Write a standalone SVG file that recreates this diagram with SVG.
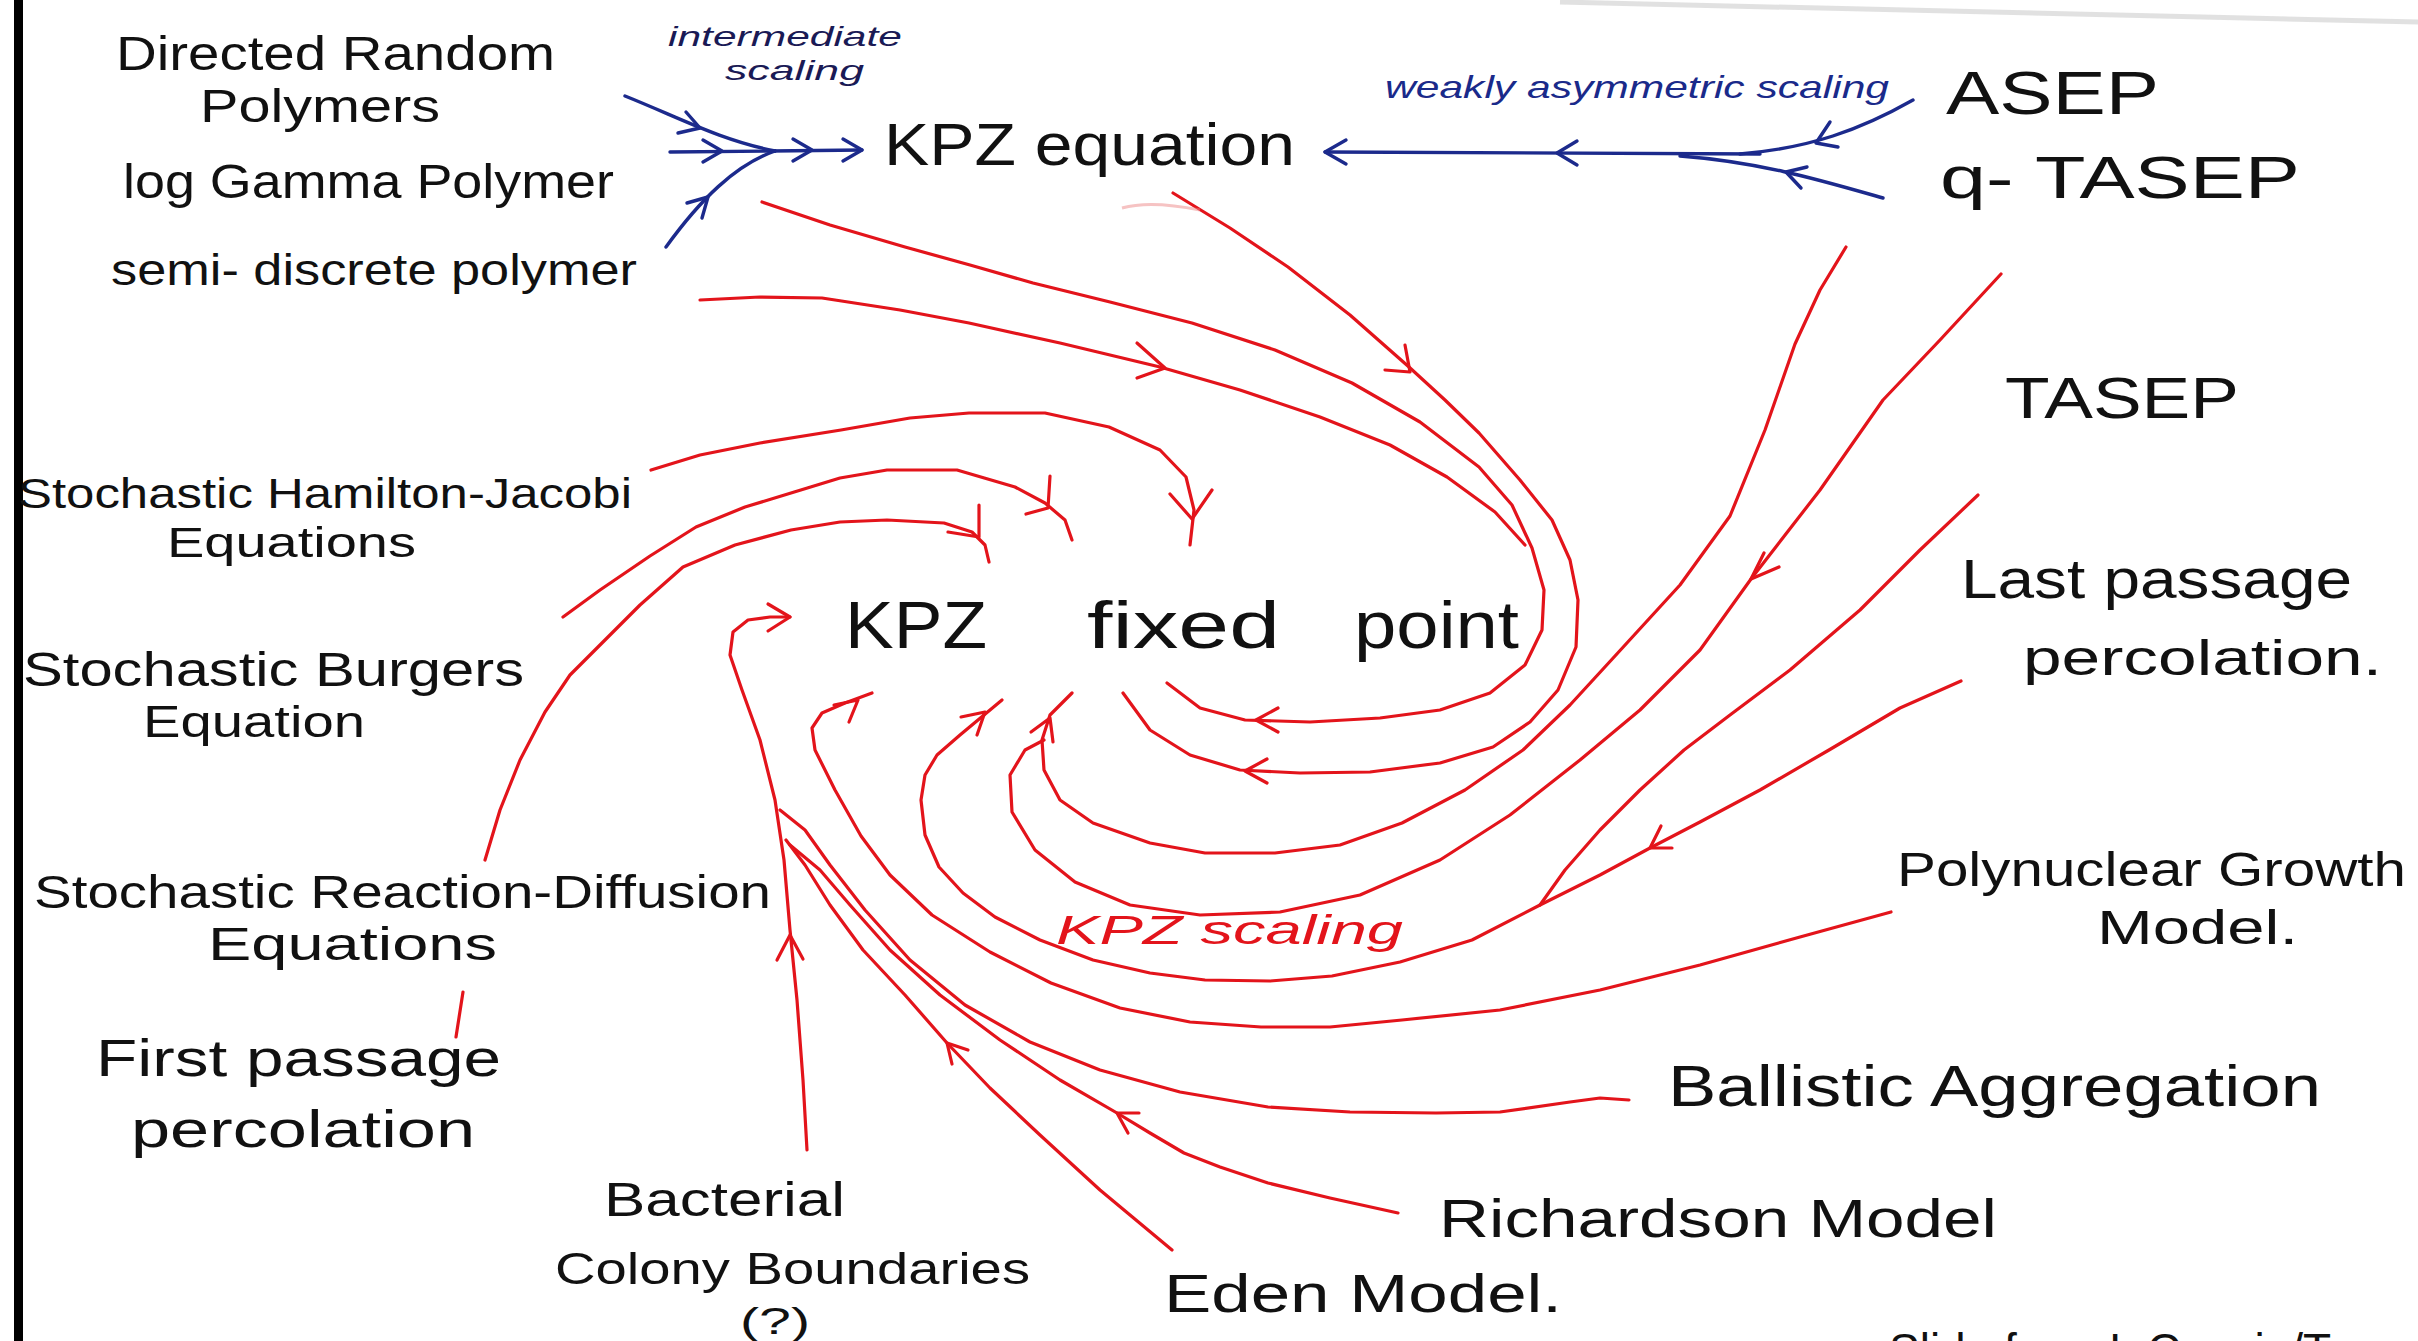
<svg xmlns="http://www.w3.org/2000/svg" width="2418" height="1341" viewBox="0 0 2418 1341">
<style>
.t{font-family:"Liberation Sans",Arial,sans-serif;fill:#111;}
.sm{font-style:italic;}
.r{fill:none;stroke:#e3141b;stroke-width:3.2;stroke-linecap:round;stroke-linejoin:round;}
.b{fill:none;stroke:#1c2a8c;stroke-width:3.4;stroke-linecap:round;stroke-linejoin:round;}
</style>
<rect x="0" y="0" width="2418" height="1341" fill="#fff"/>
<rect x="14" y="0" width="9" height="1341" fill="#000"/>
<path d="M1560,2 C1750,5 1950,10 2418,22" fill="none" stroke="#9a9a9a" stroke-width="5" opacity="0.3"/>

<g id="connectors">
<!-- blue left -->
<path class="b" d="M625,96 C680,118 720,140 775,151"/>
<path class="b" d="M670,152 L775,151"/>
<path class="b" d="M666,247 C700,200 735,165 775,151"/>
<path class="b" d="M771,151 L862,150"/>
<path class="b" d="M686,112 L700,128 L678,133"/>
<path class="b" d="M703,140 L722,151 L703,162"/>
<path class="b" d="M687,203 L708,197 L702,218"/>
<path class="b" d="M793,139 L812,150 L793,161"/>
<path class="b" d="M843,139 L862,150 L843,161"/>
<!-- blue right -->
<path class="b" d="M1913,100 C1860,130 1810,148 1740,154"/>
<path class="b" d="M1883,198 C1820,180 1760,162 1680,156"/>
<path class="b" d="M1760,154 L1325,152"/>
<path class="b" d="M1838,147 L1816,143 L1830,122"/>
<path class="b" d="M1801,188 L1786,172 L1807,167"/>
<path class="b" d="M1577,141 L1557,153 L1577,165"/>
<path class="b" d="M1346,140 L1325,152 L1346,164"/>

<!-- red upper -->
<path class="r" d="M762,202 L830,225 L905,247 L970,265 L1033,283 L1110,302 L1192,323 L1275,350 L1352,383 L1420,422 L1479,467 L1512,505 L1532,548 L1544,590 L1542,630 L1525,665 L1490,693 L1440,710 L1380,718 L1310,722 L1245,720 L1200,708 L1167,683"/>
<path class="r" d="M700,300 L760,297 L822,298 L900,310 L969,323 L1060,343 L1160,367 L1240,390 L1320,417 L1390,445 L1447,477 L1495,512 L1525,545"/>
<path class="r" d="M1173,193 L1230,228 L1288,267 L1350,315 L1409,367 L1445,400 L1479,433 L1520,480 L1552,520 L1570,560 L1578,600 L1576,647 L1558,690 L1530,722 L1493,747 L1440,763 L1370,772 L1300,773 L1240,770 L1190,755 L1150,730 L1123,693"/>
<path d="M1122,208 Q1150,200 1200,210" fill="none" stroke="#e88" stroke-width="3" opacity="0.5"/>
<path class="r" d="M1137,343 L1165,368 L1137,378"/>
<path class="r" d="M1405,345 L1410,372 L1385,370"/>
<path class="r" d="M1278,708 L1256,720 L1278,732"/>
<path class="r" d="M1267,759 L1245,771 L1267,783"/>
<!-- left arcs -->
<path class="r" d="M651,470 L700,455 L760,443 L841,430 L910,418 L969,413 L1045,413 L1109,427 L1160,450 L1186,477 L1194,510 L1190,545"/>
<path class="r" d="M1170,494 L1192,519 L1212,490"/>
<path class="r" d="M563,617 L600,590 L650,556 L696,527 L745,507 L791,493 L840,478 L887,470 L957,470 L1015,487 L1045,503 L1065,520 L1072,540"/>
<path class="r" d="M1050,476 L1048,508 L1026,514"/>
<path class="r" d="M485,860 L500,810 L520,760 L545,712 L570,675 L600,645 L640,605 L683,567 L735,545 L791,530 L840,522 L887,520 L944,523 L972,532 L985,545 L989,562"/>
<path class="r" d="M979,505 L979,537 L948,532"/>
<path class="r" d="M463,992 L456,1037"/>
<!-- right lower -->
<path class="r" d="M1846,247 L1820,290 L1795,344 L1765,430 L1730,516 L1680,585 L1615,656 L1570,705 L1523,750 L1465,790 L1402,823 L1340,845 L1275,853 L1205,853 L1150,843 L1093,823 L1060,800 L1044,770 L1042,740 L1050,715 L1072,693"/>
<path class="r" d="M2001,274 L1940,340 L1883,400 L1820,490 L1751,579 L1700,650 L1640,710 L1580,760 L1510,815 L1440,860 L1360,895 L1280,912 L1200,915 L1130,905 L1075,882 L1035,850 L1012,812 L1010,775 L1025,750 L1044,740"/>
<path class="r" d="M1764,553 L1751,579 L1779,567"/>
<path class="r" d="M1978,495 L1920,550 L1860,610 L1790,670 L1730,715 L1684,750 L1640,790 L1600,830 L1565,870 L1540,905"/>
<path class="r" d="M1961,681 L1900,708 L1829,750 L1760,790 L1700,822 L1650,848 L1600,875 L1540,905 L1472,940 L1400,962 L1332,976 L1270,981 L1205,980 L1150,973 L1093,960 L1040,940 L995,917 L963,893 L939,867 L925,835 L921,800 L925,775 L937,755 L960,735 L1002,700"/>
<path class="r" d="M1661,826 L1650,848 L1672,848"/>
<path class="r" d="M1891,912 L1800,937 L1700,965 L1600,990 L1500,1010 L1402,1020 L1330,1027 L1261,1027 L1190,1022 L1120,1008 L1051,983 L990,952 L932,915 L890,875 L861,836 L835,790 L815,750 L812,728 L822,713 L845,703 L872,693"/>
<path class="r" d="M834,705 L858,700 L849,722"/>
<path class="r" d="M961,717 L985,712 L977,735"/>
<path class="r" d="M1031,732 L1050,718 L1053,742"/>
<!-- bottom bundle -->
<path class="r" d="M807,1150 L803,1080 L797,1000 L790,930 L784,860 L775,800 L760,740 L742,690 L730,655 L733,632 L748,620 L770,617 L790,617"/>
<path class="r" d="M768,604 L790,617 L768,631"/>
<path class="r" d="M777,960 L790,935 L803,959"/>
<path class="r" d="M1629,1100 L1600,1098 L1570,1102 L1500,1112 L1436,1113 L1350,1112 L1268,1107 L1180,1092 L1100,1070 L1030,1042 L965,1005 L910,960 L865,910 L830,865 L805,830 L780,810"/>
<path class="r" d="M1398,1213 L1330,1198 L1268,1183 L1220,1167 L1184,1153 L1150,1133 L1117,1113 L1060,1080 L1000,1040 L940,995 L890,950 L850,905 L820,870 L790,845"/>
<path class="r" d="M1139,1113 L1117,1113 L1128,1133"/>
<path class="r" d="M1172,1250 L1130,1215 L1100,1190 L1040,1135 L990,1088 L947,1043 L905,995 L863,950 L830,905 L805,865 L786,840"/>
<path class="r" d="M952,1064 L947,1043 L968,1050"/>
</g>

<g id="n-directed"><text class="t" x="116" y="70" font-size="48" textLength="439" lengthAdjust="spacingAndGlyphs">Directed Random</text>
<text class="t" x="200" y="122" font-size="46" textLength="240" lengthAdjust="spacingAndGlyphs">Polymers</text></g>
<g id="n-loggamma"><text class="t" x="123" y="198" font-size="48" textLength="491" lengthAdjust="spacingAndGlyphs">log Gamma Polymer</text></g>
<g id="n-semidiscrete"><text class="t" x="111" y="285" font-size="44" textLength="526" lengthAdjust="spacingAndGlyphs">semi- discrete polymer</text></g>
<g id="lbl-intermediate"><text class="t sm" x="668" y="46" font-size="28" style="fill:#1a1a55" textLength="234" lengthAdjust="spacingAndGlyphs">intermediate</text>
<text class="t sm" x="725" y="80" font-size="28" style="fill:#1a1a55" textLength="139" lengthAdjust="spacingAndGlyphs">scaling</text></g>
<g id="n-kpzeq"><text class="t" x="884" y="165" font-size="60" textLength="411" lengthAdjust="spacingAndGlyphs">KPZ equation</text></g>
<g id="lbl-weakly"><text class="t sm" x="1385" y="98" font-size="32" style="fill:#1a2a8a" textLength="504" lengthAdjust="spacingAndGlyphs">weakly asymmetric scaling</text></g>
<g id="n-asep"><text class="t" x="1946" y="114" font-size="62" textLength="213" lengthAdjust="spacingAndGlyphs">ASEP</text></g>
<g id="n-qtasep"><text class="t" x="1940" y="198" font-size="60" textLength="360" lengthAdjust="spacingAndGlyphs">q- TASEP</text></g>
<g id="n-tasep"><text class="t" x="2005" y="418" font-size="58" textLength="234" lengthAdjust="spacingAndGlyphs">TASEP</text></g>
<g id="n-shj"><text class="t" x="18" y="508" font-size="42" textLength="614" lengthAdjust="spacingAndGlyphs">Stochastic Hamilton-Jacobi</text>
<text class="t" x="167" y="557" font-size="42" textLength="249" lengthAdjust="spacingAndGlyphs">Equations</text></g>
<g id="n-fixedpoint"><text class="t" x="845" y="648" font-size="66" textLength="142" lengthAdjust="spacingAndGlyphs">KPZ</text>
<text class="t" x="1087" y="648" font-size="66" textLength="193" lengthAdjust="spacingAndGlyphs">fixed</text>
<text class="t" x="1354" y="648" font-size="66" textLength="165" lengthAdjust="spacingAndGlyphs">point</text></g>
<g id="n-lpp"><text class="t" x="1961" y="598" font-size="56" textLength="391" lengthAdjust="spacingAndGlyphs">Last passage</text>
<text class="t" x="2023" y="675" font-size="50" textLength="359" lengthAdjust="spacingAndGlyphs">percolation.</text></g>
<g id="n-burgers"><text class="t" x="23" y="686" font-size="48" textLength="501" lengthAdjust="spacingAndGlyphs">Stochastic Burgers</text>
<text class="t" x="143" y="737" font-size="44" textLength="222" lengthAdjust="spacingAndGlyphs">Equation</text></g>
<g id="n-png"><text class="t" x="1897" y="886" font-size="48" textLength="509" lengthAdjust="spacingAndGlyphs">Polynuclear Growth</text>
<text class="t" x="2097" y="944" font-size="48" textLength="201" lengthAdjust="spacingAndGlyphs">Model.</text></g>
<g id="n-srd"><text class="t" x="34" y="908" font-size="46" textLength="737" lengthAdjust="spacingAndGlyphs">Stochastic Reaction-Diffusion</text>
<text class="t" x="208" y="960" font-size="46" textLength="289" lengthAdjust="spacingAndGlyphs">Equations</text></g>
<g id="lbl-kpzscaling"><text class="t sm" x="1056" y="944" font-size="40" style="fill:#e3141b" textLength="347" lengthAdjust="spacingAndGlyphs">KPZ scaling</text></g>
<g id="n-fpp"><text class="t" x="96" y="1076" font-size="52" textLength="405" lengthAdjust="spacingAndGlyphs">First passage</text>
<text class="t" x="131" y="1147" font-size="52" textLength="344" lengthAdjust="spacingAndGlyphs">percolation</text></g>
<g id="n-ballistic"><text class="t" x="1668" y="1106" font-size="58" textLength="653" lengthAdjust="spacingAndGlyphs">Ballistic Aggregation</text></g>
<g id="n-richardson"><text class="t" x="1439" y="1237" font-size="54" textLength="558" lengthAdjust="spacingAndGlyphs">Richardson Model</text></g>
<g id="n-bacterial"><text class="t" x="604" y="1216" font-size="48" textLength="241" lengthAdjust="spacingAndGlyphs">Bacterial</text>
<text class="t" x="555" y="1284" font-size="44" textLength="475" lengthAdjust="spacingAndGlyphs">Colony Boundaries</text>
<text class="t" x="740" y="1334" font-size="36" textLength="70" lengthAdjust="spacingAndGlyphs">(?)</text></g>
<g id="n-eden"><text class="t" x="1164" y="1312" font-size="54" textLength="398" lengthAdjust="spacingAndGlyphs">Eden Model.</text></g>
<g id="credit"><text class="t" x="1889" y="1366" font-size="46">Slide from I. Corwin/T</text></g>
</svg>
